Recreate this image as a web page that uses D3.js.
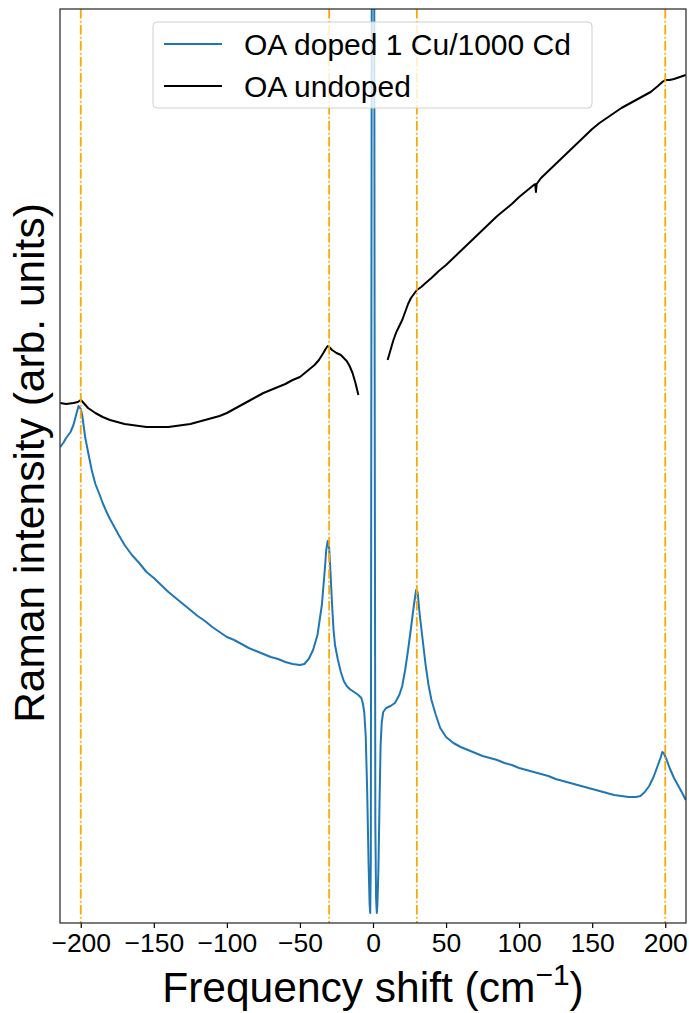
<!DOCTYPE html>
<html>
<head>
<meta charset="utf-8">
<script src="https://cdn.jsdelivr.net/npm/d3@7"></script>
<style>
  html, body { margin: 0; padding: 0; background: #fff; }
  svg { display: block; }
  text { font-family: "Liberation Sans", Arial, sans-serif; fill: #000; }
</style>
</head>
<body>
<svg id="chart" width="689" height="1013"></svg>
<script>
// ---------- data ----------
const xTicks = [-200, -150, -100, -50, 0, 50, 100, 150, 200];
const markerLines = [-200, -30, 30, 200];
const seriesNames = ["OA doped 1 Cu/1000 Cd", "OA undoped"];

const dopedFreq = [-214,-212,-210,-207,-205,-203,-201.5,-200,-199,-197,-195,-192.5,-190,-187,-185,-182,-180,-177,-174,-170,-165,-160,-155,-150,-145,-140,-135,-130,-125,-120,-115,-110,-105,-100,-95,-90,-85,-80,-75,-70,-65,-60,-55,-50,-47,-44,-41,-38,-35,-33,-32,-31,-30,-29,-28,-27,-26,-24,-22,-20,-18,-16,-14,-12,-10,-8,-7,-6,-5,-4,-3,-2.3,-1.9,-1.5,-1.1,-0.6,0.6,1.1,1.6,2.1,2.6,3.0,3.7,4.5,5.2,6,7,9,12,15,18,20,22,24,26,28,29.5,30.5,32,34,36,38,40,43,46,50,55,60,65,70,75,80,85,90,95,100,105,110,115,120,125,130,135,140,145,150,155,160,165,170,175,180,183,186,189,192,195,197,198,199,201,203,206,209,212,214];
const dopedInt = [476,480,485,491,498,509,517,514,508,486,471,453,439,428,420,410,404,396,388,378,368,360,351,345,338,331,325,319,313,307,302,296,291,286,283,279,275,272,269,266,264,261,259,258,259,264,273,288,318,353,373,382,375,348,318,293,278,263,251,242,237,234,232,230,228,225,220,211,188,133,58,18,10,60,600,1300,1300,600,100,25,10,18,53,123,178,201,211,215,217,220,228,237,253,273,295,318,333,331,308,283,258,238,223,208,195,186,180,176,173,170,167,165,163,160,158,155,153,151,149,147,144,142,140,138,136,134,132,130,128,127,126,126,127,131,137,146,158,166,171,170,163,155,145,137,129,123];

// null marks the gap around the laser line where the undoped trace is absent
const undopedFreq = [-214,-210,-205,-202,-200,-198,-195,-190,-185,-180,-175,-170,-165,-160,-155,-150,-145,-140,-135,-130,-125,-120,-115,-110,-105,-100,-95,-90,-85,-80,-75,-70,-65,-60,-55,-50,-45,-40,-37,-34,-32,-31,-30,-28,-25,-22,-20,-18,-16,-14,-12,-10,0,10,12,14,16,18,20,22,24,26,28,30,33,36,40,45,50,55,60,65,70,75,80,85,90,95,100,105,110,111,111.5,112,115,120,125,130,135,140,145,150,155,160,165,170,175,180,185,190,195,198,200,203,206,210,214];
const undopedInt = [520,519,520,521,523,520,515,510,506,503,501,499,498,497,496,496,496,496,497,498,499,501,503,505,507,510,514,518,522,526,530,533,536,539,543,546,552,558,563,570,575,577,576,573,570,568,565,562,557,550,540,528,null,563,573,583,591,597,603,611,619,625,629,633,636,640,645,652,658,665,672,679,686,693,700,707,713,719,726,732,738,739,731,739,745,752,759,766,773,780,787,794,800,805,810,815,819,823,827,831,837,841,843,843,844,846,848];

// ---------- layout ----------
const svg = d3.select("#chart");
const L = 60, R = 686, T = 9, B = 923;

const x = d3.scaleLinear().domain([-214.2, 214.2]).range([L, R]);
const y = d3.scaleLinear().domain([0, 914]).range([B, T]);

svg.append("defs").append("clipPath").attr("id", "plotclip")
  .append("rect").attr("x", L).attr("y", T).attr("width", R - L).attr("height", B - T);

const plot = svg.append("g").attr("clip-path", "url(#plotclip)");

const doped = dopedFreq.map((f, i) => ({ f, v: dopedInt[i] }));
const undoped = undopedFreq.map((f, i) => ({ f, v: undopedInt[i] }));

const line = d3.line()
  .defined(d => d.v !== null)
  .x(d => x(d.f))
  .y(d => y(d.v));

plot.append("path").datum(doped)
  .attr("d", line).attr("fill", "none")
  .attr("stroke", "#1f77b4").attr("stroke-width", 2).attr("stroke-linejoin", "round");

plot.append("path").datum(undoped)
  .attr("d", line).attr("fill", "none")
  .attr("stroke", "#000").attr("stroke-width", 2).attr("stroke-linejoin", "round");

plot.selectAll(".vline").data(markerLines).enter().append("line")
  .attr("class", "vline")
  .attr("x1", d => x(d)).attr("x2", d => x(d))
  .attr("y1", T).attr("y2", B)
  .attr("stroke", "#ffa500").attr("stroke-width", 1.8)
  .attr("stroke-dasharray", "9.6,2.4,1.6,2.4");

// ---------- axes ----------
const xAxis = d3.axisBottom(x).tickValues(xTicks).tickSize(5).tickPadding(4)
  .tickFormat(d3.format("d"));
const gx = svg.append("g").attr("transform", `translate(0,${B})`).call(xAxis);
gx.select(".domain").remove();
gx.selectAll(".tick line").attr("stroke", "#000").attr("stroke-width", 1.2);
gx.selectAll(".tick text")
  .attr("font-family", "'Liberation Sans', Arial, sans-serif")
  .attr("font-size", 26.5).attr("fill", "#000")
  .attr("dy", null).attr("y", 29);

// frame
svg.append("rect").attr("x", L).attr("y", T).attr("width", R - L).attr("height", B - T)
  .attr("fill", "none").attr("stroke", "#222").attr("stroke-width", 1.2);

// axis labels
const xl = svg.append("text")
  .attr("x", (L + R) / 2).attr("y", 1002)
  .attr("text-anchor", "middle").attr("font-size", 42.5);
xl.append("tspan").text("Frequency shift (cm");
xl.append("tspan").attr("font-size", 30).attr("dy", -17).text("−1");
xl.append("tspan").attr("dy", 17).text(")");

svg.append("text")
  .attr("transform", `translate(44,${463}) rotate(-90)`)
  .attr("text-anchor", "middle").attr("font-size", 42.5)
  .text("Raman intensity (arb. units)");

// ---------- legend ----------
const lg = svg.append("g");
lg.append("rect").attr("x", 153).attr("y", 22).attr("width", 439).attr("height", 86)
  .attr("rx", 4).attr("fill", "#fff").attr("fill-opacity", 0.8)
  .attr("stroke", "#d0d0d0").attr("stroke-width", 1);
const legendColors = ["#1f77b4", "#000"];
seriesNames.forEach((name, i) => {
  const cy = 44 + i * 42;
  lg.append("line").attr("x1", 164).attr("x2", 222).attr("y1", cy).attr("y2", cy)
    .attr("stroke", legendColors[i]).attr("stroke-width", 2);
  lg.append("text").attr("x", 244).attr("y", cy + 11).attr("font-size", 30).text(name);
});
</script>
</body>
</html>
